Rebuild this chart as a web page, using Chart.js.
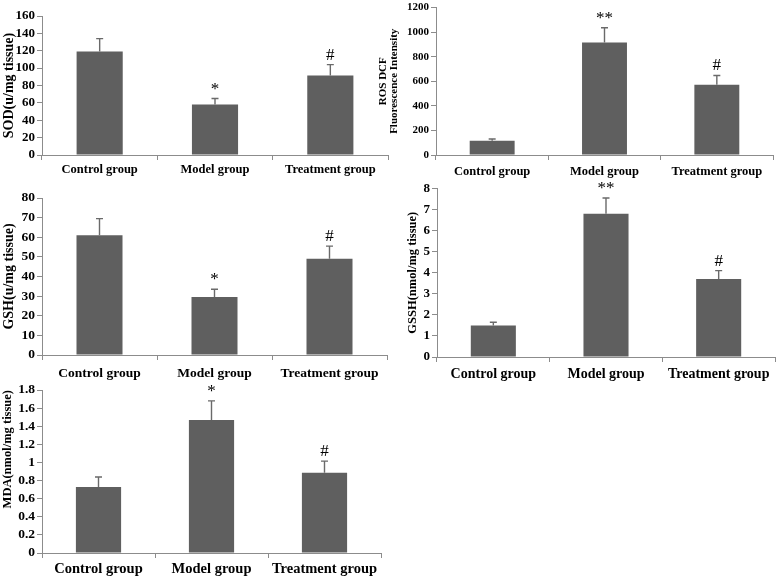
<!DOCTYPE html>
<html>
<head>
<meta charset="utf-8">
<title>Oxidative stress markers</title>
<script src="https://cdn.jsdelivr.net/npm/chart.js@4.4.1/dist/chart.umd.min.js"></script>
<style>
    body { margin: 0; background: #fff; }
    .panel { position: absolute; }
</style>
</head>
<body>
<div class="panel" id="p1"><canvas id="c1"></canvas></div>
<div class="panel" id="p2"><canvas id="c2"></canvas></div>
<div class="panel" id="p3"><canvas id="c3"></canvas></div>
<div class="panel" id="p4"><canvas id="c4"></canvas></div>
<div class="panel" id="p5"><canvas id="c5"></canvas></div>
<script>
"use strict"

const groups = ["Control group", "Model group", "Treatment group"];

const sodValues = [119, 58, 91.5];
const sodSd = [15, 7, 12.5];
const sodMarks = ["", "*", "#"];
const sodTicks = [0, 20, 40, 60, 80, 100, 120, 140, 160];

const rosValues = [115, 915, 572];
const rosSd = [15, 120, 75];
const rosMarks = ["", "**", "#"];
const rosTicks = [0, 200, 400, 600, 800, 1000, 1200];

const gshValues = [61, 29.5, 49];
const gshSd = [8.5, 4, 6.5];
const gshMarks = ["", "*", "#"];
const gshTicks = [0, 10, 20, 30, 40, 50, 60, 70, 80];

const gsshValues = [1.5, 6.8, 3.7];
const gsshSd = [0.15, 0.75, 0.4];
const gsshMarks = ["", "**", "#"];
const gsshTicks = [0, 1, 2, 3, 4, 5, 6, 7, 8];

const mdaValues = [0.73, 1.47, 0.885];
const mdaSd = [0.11, 0.21, 0.13];
const mdaMarks = ["", "*", "#"];
const mdaTicks = [0, 0.2, 0.4, 0.6, 0.8, 1, 1.2, 1.4, 1.6, 1.8];

const serif = "'Liberation Serif', 'Times New Roman', serif";
const barColor = "#5f5f5f";
const axisColor = "#8c8c8c";

// upper error bar + significance mark above each bar
const errorBars = {
    id: "errorBars",
    afterDatasetsDraw(chart, args, opts) {
        let ctx = chart.ctx;
        let yScale = chart.scales.y;
        let values = chart.data.datasets[0].data;
        let meta = chart.getDatasetMeta(0);
        ctx.save();
        meta.data.forEach(function (bar, i) {
            let top = yScale.getPixelForValue(values[i] + opts.sd[i]);
            ctx.strokeStyle = "#6a6a6a";
            ctx.lineWidth = 1.4;
            ctx.beginPath();
            ctx.moveTo(bar.x, bar.y);
            ctx.lineTo(bar.x, top);
            ctx.moveTo(bar.x - 3.5, top);
            ctx.lineTo(bar.x + 3.5, top);
            ctx.stroke();
            if (opts.marks[i]) {
                ctx.fillStyle = "#000";
                ctx.font = "17px " + serif;
                ctx.textAlign = "center";
                ctx.textBaseline = "alphabetic";
                ctx.fillText(opts.marks[i], bar.x, top - 5);
            }
        });
        ctx.restore();
    }
};

function makeChart(p) {
    let div = document.getElementById(p.div);
    div.style.left = p.left + "px";
    div.style.top = p.top + "px";
    div.style.width = p.width + "px";
    div.style.height = p.height + "px";

    let ticks = p.ticks;
    return new Chart(document.getElementById(p.canvas), {
        type: "bar",
        data: {
            labels: groups,
            datasets: [{
                data: p.values,
                backgroundColor: barColor,
                borderWidth: 0,
                barPercentage: 0.4,
                categoryPercentage: 1
            }]
        },
        options: {
            responsive: true,
            maintainAspectRatio: false,
            animation: false,
            layout: { padding: { top: p.padTop, right: p.padRight, left: 0, bottom: 0 } },
            plugins: {
                legend: { display: false },
                tooltip: { enabled: false },
                errorBars: { sd: p.sd, marks: p.marks }
            },
            scales: {
                x: {
                    grid: { drawOnChartArea: false, drawTicks: true, tickLength: 5, color: axisColor, offset: true },
                    border: { color: axisColor },
                    ticks: { color: "#000", padding: p.labelPad, maxRotation: 0, autoSkip: false, font: { family: serif, size: p.labelSize, weight: "bold" } },
                    afterFit: function (scale) { scale.height = p.axisH; }
                },
                y: {
                    min: ticks[0],
                    max: ticks[ticks.length - 1],
                    grid: { drawOnChartArea: false, drawTicks: true, tickLength: 5, color: axisColor },
                    border: { color: axisColor },
                    ticks: {
                        stepSize: ticks[1] - ticks[0],
                        autoSkip: false,
                        maxTicksLimit: 20,
                        color: "#000",
                        padding: 2,
                        font: { family: serif, size: p.tickSize, weight: "bold", lineHeight: 1 },
                        callback: function (v) { return String(Number(v.toFixed(2))); }
                    },
                    title: {
                        display: true,
                        text: p.title,
                        align: p.titleAlign || "center",
                        color: "#000",
                        padding: { top: p.titlePad, bottom: 0 },
                        font: { family: serif, size: p.titleSize, weight: "bold", lineHeight: p.titleLine || 1.2 }
                    },
                    afterFit: function (scale) { scale.width = p.axisW; }
                }
            }
        },
        plugins: [errorBars]
    });
}

window.onload = function () {
    makeChart({
        div: "p1", canvas: "c1", left: 0, top: 0, width: 392, height: 185,
        padTop: 16, padRight: 4, axisW: 42, axisH: 30,
        values: sodValues, sd: sodSd, marks: sodMarks, ticks: sodTicks,
        title: "SOD(u/mg tissue)", titleSize: 14, titlePad: 1,
        tickSize: 13, labelSize: 12.5, labelPad: 2
    });
    makeChart({
        div: "p2", canvas: "c2", left: 375, top: 0, width: 403, height: 185,
        padTop: 6, padRight: 5, axisW: 61, axisH: 30,
        values: rosValues, sd: rosSd, marks: rosMarks, ticks: rosTicks,
        title: ["ROS DCF", "Fluorescence Intensity"], titleSize: 11, titlePad: 3, titleLine: 0.95,
        tickSize: 11, labelSize: 12.5, labelPad: 4
    });
    makeChart({
        div: "p3", canvas: "c3", left: 0, top: 180, width: 392, height: 205,
        padTop: 18, padRight: 5, axisW: 42, axisH: 30,
        values: gshValues, sd: gshSd, marks: gshMarks, ticks: gshTicks,
        title: "GSH(u/mg tissue)", titleSize: 14, titlePad: 1,
        tickSize: 13.5, labelSize: 13.5, labelPad: 5
    });
    makeChart({
        div: "p4", canvas: "c4", left: 380, top: 180, width: 398, height: 205,
        padTop: 7, padRight: 3, axisW: 57, axisH: 28,
        values: gsshValues, sd: gsshSd, marks: gsshMarks, ticks: gsshTicks,
        title: "GSSH(nmol/mg tissue)", titleSize: 12.5, titlePad: 25,
        tickSize: 13, labelSize: 14, labelPad: 4
    });
    makeChart({
        div: "p5", canvas: "c5", left: 0, top: 375, width: 392, height: 202,
        padTop: 15, padRight: 11, axisW: 42, axisH: 24,
        values: mdaValues, sd: mdaSd, marks: mdaMarks, ticks: mdaTicks,
        title: "MDA(nmol/mg tissue)", titleSize: 12.5, titlePad: 0, titleAlign: "end",
        tickSize: 13.5, labelSize: 14.5, labelPad: 3
    });
}
</script>
</body>
</html>
